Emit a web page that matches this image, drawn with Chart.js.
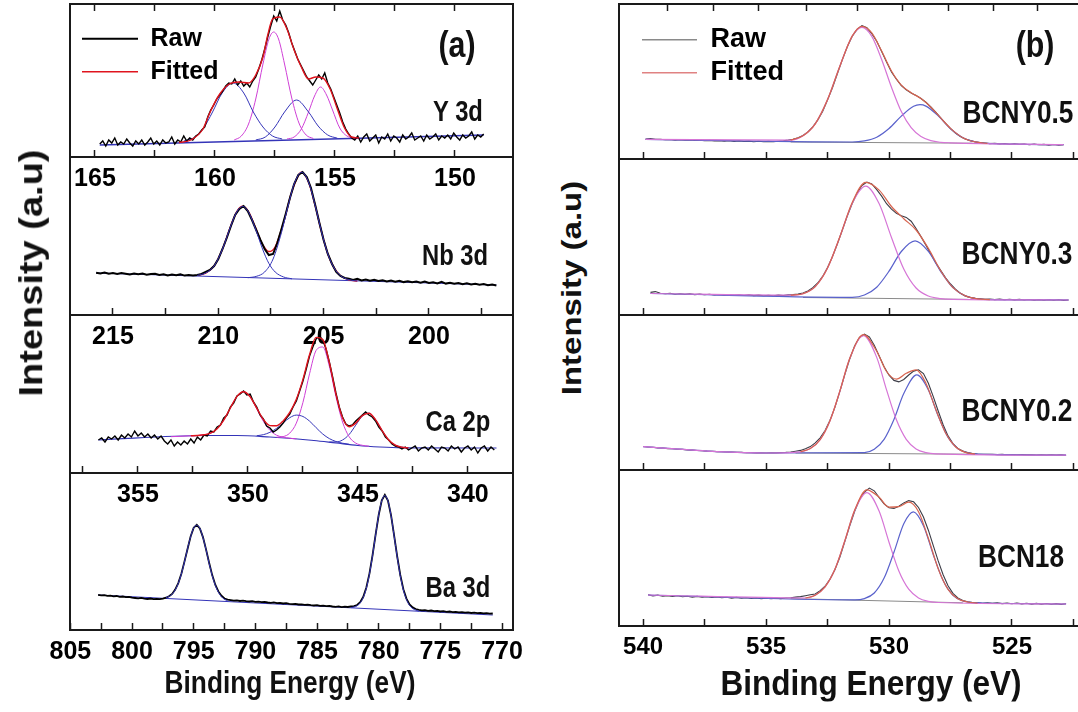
<!DOCTYPE html>
<html>
<head>
<meta charset="utf-8">
<script src="https://cdn.jsdelivr.net/npm/chart.js@4.4.0/dist/chart.umd.min.js"></script>
<style>
    body { margin: 0; background: #fff; }
    #wrap { position: relative; width: 1078px; height: 712px; overflow: hidden; background: #fff; }
    canvas { position: absolute; }
    .lbl { position: absolute; transform: translate(-50%, -50%) scaleX(0.82); font-family: 'Liberation Sans', Arial, sans-serif; font-weight: bold; color: #111; white-space: nowrap; line-height: 1; }
    .ytl { position: absolute; transform: translate(-50%, -50%) rotate(-90deg) scaleY(0.85); font-family: 'Liberation Sans', Arial, sans-serif; font-weight: bold; color: #111; white-space: nowrap; line-height: 1; }
</style>
</head>
<body>
<div id="wrap">
    <canvas id="cY"></canvas>
    <canvas id="cNb"></canvas>
    <canvas id="cCa"></canvas>
    <canvas id="cBa"></canvas>
    <canvas id="cB1"></canvas>
    <canvas id="cB2"></canvas>
    <canvas id="cB3"></canvas>
    <canvas id="cB4"></canvas>

    <div class="lbl" style="left:457px; top:44px; font-size:37px">(a)</div>
    <div class="lbl" style="left:458px; top:111px; font-size:29px">Y 3d</div>
    <div class="lbl" style="left:455px; top:255px; font-size:29px">Nb 3d</div>
    <div class="lbl" style="left:458px; top:421px; font-size:29px">Ca 2p</div>
    <div class="lbl" style="left:458px; top:587px; font-size:29px">Ba 3d</div>
    <div class="lbl" style="left:1035px; top:44px; font-size:37px">(b)</div>
    <div class="lbl" style="left:1018px; top:112px; font-size:32px">BCNY0.5</div>
    <div class="lbl" style="left:1017px; top:253px; font-size:32px">BCNY0.3</div>
    <div class="lbl" style="left:1017px; top:410px; font-size:32px">BCNY0.2</div>
    <div class="lbl" style="left:1021px; top:556px; font-size:32px">BCN18</div>
    <div class="lbl" style="left:290px; top:682px; font-size:32px">Binding Energy (eV)</div>
    <div class="lbl" style="left:871px; top:682px; font-size:35px; transform: translate(-50%, -50%) scaleX(0.9)">Binding Energy (eV)</div>
    <div class="ytl" style="left:31px; top:273px; font-size:38px">Intensity (a.u)</div>
    <div class="ytl" style="left:571px; top:288px; font-size:33px">Intensity (a.u)</div>
</div>
<script>
// ---- panel (a) : Y 3d ----
const y3dE0 = 164.8, y3dStep = 0.125
const y3dRaw = [
    13,16,11,17,14,19,12,15,13,18, 14,11,16,13,17,12,15,19,13,16,
    12,17,14,15,20,13,17,15,21,16, 19,17,
    21,23,27,30,40,47,52,58,62,66, 71,74,73,78,72,76,71,74,70,76,
    80,88,97,108,120,131,141,136,146,137, 132,124,114,106,98,92,86,80,76,72,
    77,82,78,84,74,68,60,52,44,35, 28,23,19,
    17,21,15,20,23,16,19,22,14,20, 18,23,16,21,19,15,22,18,20,24,
    17,19,21,16,22,18,20,23,17,21, 19,22,18,24,20,17,22,19,21,25,
    18,22,20,23
]
const y3dFitE = [161.5,161.0,160.5,160.2,159.8,159.4,159.0,158.6,158.3,158.0,157.8,157.6,157.3,157.0,156.7,156.4,156.1,155.8,155.5,155.2,154.9,154.6,154.3,154.0]
const y3dFit = [14.5,17,28,45,63,73,75,74,82,100,122,138,140,128,107,90,78,80,79,68,48,29,20,19]
const y3dPk1E = [161.3,160.9,160.5,160.1,159.7,159.25,158.8,158.4,158.0,157.6,157.2]
const y3dPk1 = [16,19,28,45,64,74,64,45,30,21,18]
const y3dPk2E = [159.2,158.9,158.6,158.3,158.0,157.75,157.55,157.35,157.1,156.8,156.5,156.2,155.9]
const y3dPk2 = [17,21,33,58,93,118,125,118,93,59,34,22,18.5]
const y3dPk3E = [158.3,157.9,157.5,157.1,156.6,156.1,155.7,155.3,154.9]
const y3dPk3 = [17,20,30,45,57,45,31,22,18.8]
const y3dPk4E = [157.0,156.7,156.4,156.1,155.85,155.6,155.35,155.1,154.8,154.5,154.2]
const y3dPk4 = [18,20,28,45,61,70,62,47,29,21,19]
const y3dBgE = [164.8, 148.8]
const y3dBg = [12, 22]
const y3dTicks = [165, 162.5, 160, 157.5, 155, 152.5, 150]

// ---- panel (a) : Nb 3d ----
const nbE0 = 215.8, nbStep = 0.2
const nbRaw = [
    42.3,41.6,42.5,41.2,41.9,41.0,42.0,41.3,40.6,41.5, 40.8,41.4,40.2,40.9,41.3,40.1,40.7,39.5,40.4,39.8,
    40.6,39.4,40.1,39.6,40.0,
    41,43,45,49,56,66,77,89,100,106, 109,104,95,85,75,66,60,61,72,86,
    101,117,131,140,143,138,127,110,92,75, 61,51,43,39,37,
    36.2,35.0,36.1,34.6,35.5,34.3,35.2,34.0,34.8,33.6, 34.5,33.3,34.2,32.9,33.8,32.7,33.5,32.2,33.4,32.0,
    32.8,31.6,33.1,31.4,32.3,31.2,32.0,30.8,31.7,30.5, 31.2,30.2,30.9,29.8,30.4,29.5
]
const nbFitE = [211.0,210.6,210.2,209.8,209.4,209.1,208.84,208.55,208.25,207.9,207.6,207.3,206.9,206.5,206.04,205.7,205.4,205.1,204.8,204.5,204.2,203.8,203.4]
const nbFit = [39.6,42,49,66,89.6,104,108.7,102.7,88.2,70.6,63.4,68,92.6,124,142.8,132,109.4,83.2,61,47,39.3,35.3,34]
const nbPk1E = [211.0,210.6,210.2,209.8,209.4,209.1,208.84,208.55,208.25,207.9,207.6,207.3,206.9,206.5]
const nbPk1 = [39.6,42,49,66,89.6,104,108.6,102.4,87,66,51.6,43,38,36.2]
const nbPk2E = [208.6,208.2,207.8,207.4,207.0,206.7,206.4,206.04,205.7,205.4,205.1,204.8,204.5,204.2,203.8,203.4]
const nbPk2 = [37.3,38.6,43,56,82.5,108,131,142.8,132,109.4,83.2,61,47,39.3,35.3,34]
const nbBgE = [215.8, 196.8]
const nbBg = [42, 30]
const nbTicks = [215, 212.5, 210, 207.5, 205, 202.5, 200, 197.5]

// ---- panel (a) : Ca 2p ----
const caE0 = 356.8, caStep = 0.15
const caRaw = [
    33,35,31,36,34,37,33,38,35,39, 36,42,37,40,36,39,35,38,34,37,
    32,29,33,27,31,28,32,29,34,30, 36,33,38,37,42,41,46,48,55,58,
    66,70,77,79,82,78,79,71,66,58, 54,47,45,41,43,46,50,55,59,66,
    72,82,92,104,117,126,134,137,133,124, 111,96,80,66,56,49,47,48,52,55,
    58,61,58,56,52,46,42,36,33,29, 27,26,24,
    26,23,25,27,22,25,26,23,27,24, 21,26,25,22,27,24,26,21,25,27,
    23,26,20,25,27,22,26,23
]
const caFitE = [352.6,352.3,352.0,351.7,351.4,351.1,350.8,350.5,350.2,349.9,349.6,349.3,349.0,348.7,348.4,348.1,347.8,347.5,347.2,346.9,346.6,346.3,346.0,345.7,345.4,345.1,344.8,344.5,344.2,343.9,343.6,343.3,343.0,342.7]
const caFit = [37.2,37.5,38.2,39.8,44.2,52.9,65,76.6,81.3,76.3,64.8,53.7,47.4,47.2,52.1,60.6,73.7,93.6,118.2,135.6,133.5,110.6,78.9,55.2,46.3,49.9,57.4,59.8,53.3,42.4,33,27.9,25.8,25.1]
const caPk1E = [353.5,352.6,352.3,352.0,351.7,351.4,351.1,350.8,350.5,350.2,349.9,349.6,349.3,349.0,348.7,348.4,348.1,347.8]
const caPk1 = [36.3,37.2,37.5,38.2,39.8,44.2,52.9,65,76.6,81.3,76.1,64.1,51.7,42.7,37.8,35.8,34.8,34.1]
const caPk2E = [349.6,349.3,349.0,348.7,348.4,348.1,347.8,347.5,347.2,346.9,346.6,346.3,346.0,345.7,345.4]
const caPk2 = [37.3,38.3,40.7,44.6,50.1,55.3,57.9,56.5,51.9,45.3,39,34.4,31.5,29.8,28.7]
const caPk3E = [348.7,348.4,348.1,347.8,347.5,347.2,346.9,346.6,346.3,346.0,345.7,345.4,345.1,344.8,344.5]
const caPk3 = [35.8,36.4,39.9,49.9,70.6,99.2,122.6,126,106.8,76.4,51,36.3,29.9,27.7,26.8]
const caPk4E = [346.3,346.0,345.7,345.4,345.1,344.8,344.5,344.2,343.9,343.6,343.3,343.0,342.7]
const caPk4 = [31,31,33,38.5,47.8,56.9,59.8,53.3,42.4,33,27.9,25.8,25.1]
const caBgE = [356.8,352,350.5,349,348,347,346,345,344,343,338.7]
const caBg = [33,37.5,37.5,36,34.5,32.5,30,27.5,26,25.2,25]
const caTicks = [357.5, 355, 352.5, 350, 347.5, 345, 342.5, 340]

// ---- panel (a) : Ba 3d ----
const baE0 = 802.75, baStep = 0.25
const baRaw = [
    35.2,34.6,34.9,34.1,34.3,33.6,34.0,33.2,33.5,32.8, 33.1,32.4,32.0,31.6,32.1,31.4,31.0,31.5,30.8,31.2,
    30.9,31.4,32.3,
    33.8,36.1,40.4,46.9,56.3,68.4,81.0,93.5,102.3,105.2, 101.5,92.9,80.6,67.2,54.9,45.3,38.6,34.2,31.5,30.4,
    29.9,29.4,29.7,29.0,29.3,28.8,28.5,28.9,28.2,28.4, 27.8,28.1,27.5,27.2,27.6,26.9,27.1,26.5,26.8,26.1,
    25.8,26.2,25.5,25.7,25.1,25.4,24.8,24.5,24.9,24.2, 24.4,23.8,24.1,23.5,23.2,23.6,22.9,23.3,23.0,23.6,
    23.9,25.0,27.8,33.2,42.5,56.4,74.6,95.3,115.0,129.6, 135.1,129.4,114.8,94.6,73.6,55.0,40.8,31.4,25.6,22.6,
    21.0,
    20.2,19.6,19.9,19.2,19.5,18.8,19.1,18.5,18.9,18.2, 18.5,17.9,18.2,17.6,17.9,17.3,17.6,17.0,17.4,16.8,
    17.1,16.6,16.9,16.3,16.5
]
const baPk1E = [797.25,797.0,796.75,796.5,796.25,796.0,795.75,795.5,795.25,795.0,794.75,794.5,794.25,794.0,793.75,793.5,793.25,793.0,792.75,792.5,792.25]
const baPk1 = [32.5,33.5,35.8,40,46.6,56,68,81.3,93.2,102,104.8,101.7,92.5,80.4,66.7,54.4,44.7,37.8,33.3,30.6,29.3]
const baPk2E = [782.25,782.0,781.75,781.5,781.25,781.0,780.75,780.5,780.25,780.0,779.75,779.5,779.25,779.0,778.75,778.5,778.25,778.0,777.75,777.5,777.25,777.0,776.75]
const baPk2 = [22.3,23,24.2,27.1,32.6,41.9,55.9,74.3,95.1,115.2,129.4,134.5,129.1,114.6,94.2,73.1,54.4,40,30.5,24.6,21.5,19.9,18.9]
const baBgE = [802.75, 770.75]
const baBg = [35, 15]
const baTicks = [805, 802.5, 800, 797.5, 795, 792.5, 790, 787.5, 785, 782.5, 780, 777.5, 775, 772.5, 770]

// ---- panel (b) : O 1s, shared axis ----
const bTicks = [540, 537.5, 535, 532.5, 530, 527.5, 525, 522.5]
const bTopTicks = [539, 537.15, 535.3, 533.35, 531.3, 529.45, 527.6, 525.75, 523.95]
const bStep = 0.2

// BCNY0.5
const b1E0 = 539.9
const b1Raw = [
    19.9,20.4,19.6,19.8,19.2,19.5,18.9,19.3,18.7,19.0, 18.5,18.9,18.2,18.6,18.0,18.4,17.8,18.2,17.6,18.1,
    17.5,17.9,17.3,17.8,17.2,17.6,17.3,17.8,18.2,18.9, 19.8,21.3,23.5,27.0,32.1,38.9,47.6,58.9,71.2,85.3,
    99.1,112.0,122.5,129.6,133.4,131.2,125.4,117.8,107.5,97.1, 87.0,79.8,73.5,69.1,66.0,63.6,60.5,56.8,52.0,46.9,
    41.2,35.6,30.4,26.0,22.4,20.1,18.4,17.3,16.4,16.0, 15.4,15.8,15.1,15.5,14.8,15.3,14.6,15.0,14.3,14.9,
    14.2,14.6,13.9,14.5,13.8,14.3
]
const b1FitE = [534.0,533.5,533.0,532.5,532.0,531.5,531.1,530.7,530.3,529.9,529.5,529.1,528.7,528.3,527.9,527.5,527.0,526.5,526.0]
const b1Fit = [18.9,23.3,35.2,59.4,92.8,122.9,132.7,126.1,108,88,73.9,66.3,60.4,51.8,41.1,30.6,21.3,17.1,15.6]
const b1PinkE = [539.9,534.0,533.5,533.0,532.5,532.0,531.5,531.1,530.7,530.3,529.9,529.5,529.1,528.7,528.3,527.9,527.5,522.9]
const b1Pink = [19.7,18.9,23.3,35.2,59.4,92.8,122.7,131.6,122.6,99.5,71.7,47.4,31.3,22.4,18.3,16.7,16.2,14.3]
const b1BlueE = [539.9,531.5,531.0,530.5,530.0,529.5,529.0,528.74,528.5,528.0,527.5,527.0,526.5,526.0,522.9]
const b1Blue = [19.7,17,18.1,21.8,30.5,42.9,52.7,54.3,52.9,43.2,30.3,21.3,17.1,15.6,14.3]
const b1BgE = [534.0, 526.6]
const b1Bg = [17.0, 15.8]

// BCNY0.3
const b2E0 = 539.7
const b2Raw = [
    22.6,23.4,21.8,21.2,21.7,20.8,21.3,20.6,21.1,20.4, 20.9,20.2,20.7,20.0,20.5,19.8,20.4,19.7,20.2,19.5,
    20.1,19.4,19.9,19.2,19.8,19.3,19.9,19.5,20.1,20.4, 21.0,22.0,24.1,27.3,32.0,38.6,47.4,58.3,71.0,84.8,
    98.6,111.2,121.8,129.5,133.0,131.0,125.4,118.9,111.3,105.8, 101.7,99.2,97.6,93.8,86.5,78.4,69.9,61.0,52.3,44.6,
    37.2,31.0,25.8,21.8,19.1,17.6,16.7,16.1,15.6,16.0, 15.4,15.9,15.2,15.7,15.1,15.6,15.0,15.5,14.9,15.4,
    14.8,15.3,14.7,15.2,14.6,15.0
]
const b2FitE = [534.0,533.5,533.0,532.5,532.0,531.5,530.95,530.4,529.9,529.4,528.9,528.4,527.9,527.4,526.9,526.4,525.9]
const b2Fit = [19.8,21.3,28.4,47,78.2,112.3,132.7,124.9,108.5,96.3,85,66.6,44.3,27.3,19.1,16.2,15.4]
const b2PinkE = [539.7,534.0,533.5,533.0,532.5,532.0,531.5,530.95,530.4,529.9,529.4,528.9,528.4,527.9,527.4,522.7]
const b2Pink = [21.5,19.8,21.3,28.4,47,78.1,111.6,128.9,111.2,77.5,46,27,19,16.4,15.7,15]
const b2BlueE = [539.7,531.5,531.0,530.5,530.0,529.5,528.94,528.4,527.9,527.4,526.9,526.4,525.9,522.7]
const b2Blue = [21.5,17.7,20,27.8,43.8,63.5,74.1,63.6,43.7,27.3,19.1,16.2,15.4,15]
const b2BgE = [533.5, 526.8]
const b2Bg = [17.5, 15.6]

// BCNY0.2
const b3E0 = 540.0
const b3Raw = [
    23.5,23.0,22.8,22.1,22.0,21.4,21.2,20.8,20.6,20.0, 19.9,19.5,19.3,18.9,18.8,18.4,18.3,18.0,17.9,17.6,
    17.6,17.3,17.4,17.1,17.3,17.0,17.2,17.1,17.4,17.6, 18.0,18.8,19.6,21.3,23.4,27.1,32.2,39.4,49.8,62.6,
    78.4,95.1,110.8,124.0,132.5,135.8,133.2,124.8,114.0,103.2, 94.8,89.6,88.1,90.5,95.0,98.9,100.2,96.4,86.7,73.4,
    59.0,45.2,34.1,26.4,21.6,18.9,17.4,16.5,16.0,15.8, 15.6,15.7,15.4,15.6,15.3,15.5,15.2,15.4,15.1,15.3,
    15.0,15.2,14.9,15.2,14.9,15.1,14.8
]
const b3FitE = [533.6,533.2,532.8,532.4,532.0,531.6,531.04,530.5,530.1,529.7,529.3,528.9,528.5,528.1,527.7,527.3,526.9,526.5]
const b3Fit = [18.2,21.4,30.4,49.3,78.9,111.5,135.4,118.7,98.5,90.9,96.7,100.1,86.8,60.8,37,23.2,17.6,16.1]
const b3PinkE = [540.0,537.0,535.0,533.6,533.2,532.8,532.4,532.0,531.6,531.04,530.5,530.1,529.7,529.3,528.9,528.5,528.1,522.8]
const b3Pink = [23.3,18.4,17.0,18.2,21.4,30.4,49.3,78.8,111.4,134.4,112.6,80.1,50.2,30.7,21.1,17.4,16.2,14.8]
const b3BlueE = [540.0,537.0,535.0,531.0,530.6,530.2,529.8,529.4,528.87,528.4,528.0,527.6,527.2,526.8,526.4,522.8]
const b3Blue = [23.3,18.4,17.0,17.4,20.7,30.6,50.5,76.4,95.1,80.1,54,32.6,21.3,17.1,15.8,14.8]
const b3BgE = [533.8, 526.6]
const b3Bg = [17.0, 15.8]

// BCN18
const b4E0 = 539.8
const b4Raw = [
    31.2,30.1,30.9,29.8,30.4,29.5,30.2,29.3,29.8,28.9, 29.6,28.7,29.3,28.5,29.0,28.2,28.8,27.9,28.6,27.8,
    28.3,27.5,28.1,27.3,27.9,27.2,27.8,27.4,28.0,28.3, 28.9,29.4,30.3,31.2,32.0,35.3,39.8,46.9,56.2,68.7,
    84.1,99.8,114.5,126.3,134.0,137.9,135.2,128.4,122.1,118.2, 117.6,119.8,123.1,125.4,124.2,118.5,109.0,95.8,80.4,65.1,
    51.2,40.3,32.6,28.0,25.4,24.3,23.5,23.2,22.8,23.3, 22.6,23.1,22.4,22.9,22.2,23.0,22.1,22.7,21.9,22.6,
    21.8,22.5,21.7,22.4,21.6,22.2
]
const b4FitE = [533.4,533.0,532.6,532.2,531.8,531.4,530.9,530.4,530.0,529.6,529.2,528.8,528.4,528.0,527.6,527.2,526.8,526.4]
const b4Fit = [28,30.8,39.1,56.7,85.1,115.7,136.2,128.7,118.8,119.3,123.8,114.3,87.7,57.3,36.6,27.2,24,23]
const b4PinkE = [539.8,533.4,533.0,532.6,532.2,531.8,531.4,530.9,530.4,530.0,529.6,529.2,528.8,528.4,528.0,522.8]
const b4Pink = [31.0,28,30.8,39.1,56.7,85,115.3,133.4,114.7,83.8,55,36.8,28.1,24.7,23.5,22.0]
const b4BlueE = [539.8,531.4,531.0,530.6,530.2,529.8,529.4,529.01,528.6,528.2,527.8,527.4,527.0,526.6,526.2,522.8]
const b4Blue = [31.0,26.1,27.4,33,47.9,73.7,102.2,114.1,100.3,71.3,45.4,30.7,25,23.4,23,22.0]
const b4BgE = [534.0, 527.0]
const b4Bg = [27.4, 23.2]

const FONT = "'Liberation Sans', Arial, sans-serif"
Chart.defaults.font.family = FONT

function pts(e, v){
    return e.map((x, i) => ({x: x, y: v[i]}))
}

function rawPts(e0, step, v){
    return v.map((y, i) => ({x: +(e0 - i * step).toFixed(3), y: y}))
}

function curve(data, color, width, order, label, smooth){
    const ds = {
        label: label || '',
        data: data,
        borderColor: color,
        backgroundColor: color,
        borderWidth: width,
        pointRadius: 0,
        fill: false,
        order: order,
        xAxisID: 'x',
        yAxisID: 'y'
    }
    if(smooth !== false) ds.cubicInterpolationMode = 'monotone'
    return ds
}

function legendCfg(size, pad, skip, len, titleGap, overrides){
    return {
        display: true,
        position: 'chartArea',
        align: 'start',
        title: {display: true, text: ' ', font: {size: 1}, padding: {top: 0, bottom: titleGap}},
        labels: {
            usePointStyle: true,
            pointStyle: 'line',
            pointStyleWidth: skip + len,
            padding: pad,
            color: '#000',
            font: {family: FONT, size: size, weight: 'bold'},
            generateLabels: chart => {
                const items = Chart.defaults.plugins.legend.labels.generateLabels(chart)
                    .filter(it => it.text === 'Raw' || it.text === 'Fitted')
                    .sort((a, b) => (a.text === 'Raw' ? 0 : 1) - (b.text === 'Raw' ? 0 : 1))
                items.forEach(it => {
                    it.lineDash = [0, skip, len, 1000]
                    Object.assign(it, overrides[it.text] || {})
                })
                return items
            }
        }
    }
}

function makeChart(id, box, xr, ticks, opt){
    const padL = 30, padR = 30, padT = 2, axisH = 50
    const cv = document.getElementById(id)
    cv.width = box.w + padL + padR
    cv.height = box.h + padT + axisH
    cv.style.left = (box.x - padL) + 'px'
    cv.style.top = (box.y - padT) + 'px'
    const frame = {display: true, color: '#1a1a1a', width: 2}
    const tickGrid = {drawOnChartArea: false, drawTicks: true, tickLength: -7, tickWidth: 1.5, tickColor: '#1a1a1a'}
    // keep the frame exactly on the box: no extra room for edge labels
    const noEdge = s => { s.paddingLeft = 0; s.paddingRight = 0; s.paddingTop = 0; s.paddingBottom = 0 }
    return new Chart(cv, {
        type: 'line',
        data: {datasets: opt.datasets},
        options: {
            responsive: false,
            animation: false,
            devicePixelRatio: 1,
            layout: {padding: {left: padL, right: padR, top: padT, bottom: 0}},
            plugins: {
                legend: opt.legend || {display: false},
                tooltip: {enabled: false}
            },
            scales: {
                x: {
                    type: 'linear', position: 'bottom', min: xr[0], max: xr[1], reverse: true,
                    afterFit: s => { s.height = axisH; noEdge(s) },
                    afterBuildTicks: s => { s.ticks = ticks.map(v => ({value: v})) },
                    ticks: {
                        display: opt.labels, autoSkip: false, maxRotation: 0, padding: 14, color: '#000',
                        font: {family: FONT, size: opt.tickSize || 25, weight: 'bold'},
                        callback: v => v % 5 === 0 ? String(v) : ''
                    },
                    grid: tickGrid,
                    border: frame
                },
                xTop: {
                    type: 'linear', axis: 'x', position: 'top', min: xr[0], max: xr[1], reverse: true,
                    afterFit: s => { s.height = 0; noEdge(s) },
                    afterBuildTicks: s => { s.ticks = (opt.topTicks || []).map(v => ({value: v})) },
                    ticks: {display: false},
                    grid: Object.assign({}, tickGrid, {drawTicks: !!opt.topTicks}),
                    border: frame
                },
                y: {
                    type: 'linear', min: 0, max: box.h,
                    afterFit: s => { s.width = 0; noEdge(s) },
                    ticks: {display: false}, grid: {display: false}, border: frame
                },
                yRight: {
                    type: 'linear', axis: 'y', position: 'right', min: 0, max: box.h,
                    afterFit: s => { s.width = 0; noEdge(s) },
                    ticks: {display: false}, grid: {display: false}, border: frame
                }
            }
        }
    })
}

const RED = '#e0141e', MAG = '#cf3fd6', BLUE = '#3434b8', BLACK = '#000'

makeChart('cY', {x: 70, y: 4, w: 443, h: 153}, [147.58, 166.04], y3dTicks, {
    labels: true,
    topTicks: y3dTicks,
    legend: legendCfg(25, 8, 4, 56, 15, {Raw: {lineWidth: 2}, Fitted: {lineWidth: 1.5}}),
    datasets: [
        curve(pts(y3dFitE, y3dFit), RED, 1.4, 0, 'Fitted'),
        curve(rawPts(y3dE0, y3dStep, y3dRaw), BLACK, 1.4, 1, 'Raw', false),
        curve(pts(y3dPk1E, y3dPk1), BLUE, 1, 2),
        curve(pts(y3dPk2E, y3dPk2), MAG, 1, 2),
        curve(pts(y3dPk3E, y3dPk3), BLUE, 1, 2),
        curve(pts(y3dPk4E, y3dPk4), MAG, 1, 2),
        curve(pts(y3dBgE, y3dBg), BLUE, 1.3, 3, '', false)
    ]
})

makeChart('cNb', {x: 70, y: 157, w: 443, h: 158}, [196.01, 217.04], nbTicks, {
    labels: true,
    datasets: [
        curve(pts(nbPk1E, nbPk1), BLUE, 1, 0),
        curve(pts(nbPk2E, nbPk2), BLUE, 1, 0),
        curve(rawPts(nbE0, nbStep, nbRaw), BLACK, 2, 1, 'Raw', false),
        curve(pts(nbFitE, nbFit), RED, 1.5, 2, 'Fitted'),
        curve(pts(nbBgE, nbBg), BLUE, 1, 3, '', false)
    ]
})

makeChart('cCa', {x: 70, y: 315, w: 443, h: 158}, [337.95, 358.09], caTicks, {
    labels: true,
    datasets: [
        curve(pts(caFitE, caFit), RED, 1.4, 0, 'Fitted'),
        curve(rawPts(caE0, caStep, caRaw), BLACK, 1.4, 1, 'Raw', false),
        curve(pts(caPk1E, caPk1), MAG, 1, 2),
        curve(pts(caPk2E, caPk2), BLUE, 1, 2),
        curve(pts(caPk3E, caPk3), MAG, 1, 2),
        curve(pts(caPk4E, caPk4), BLUE, 1, 2),
        curve(pts(caBgE, caBg), BLUE, 1.2, 3)
    ]
})

makeChart('cBa', {x: 70, y: 473, w: 443, h: 157}, [769.11, 805.03], baTicks, {
    labels: true,
    datasets: [
        curve(pts(baPk1E, baPk1), BLUE, 1, 0),
        curve(pts(baPk2E, baPk2), BLUE, 1, 0),
        curve(rawPts(baE0, baStep, baRaw), BLACK, 1.8, 1, 'Raw', false),
        curve(pts(baBgE, baBg), BLUE, 1, 2, '', false)
    ]
})

const B_RAW = '#3c3c46', B_FIT = '#d8644f', B_PINK = '#d675d6', B_BLUE = '#5a62cc', B_BG = '#8a8a8a'
const bRange = [521.99, 540.98]

function bSets(e0, raw, fitE, fit, pinkE, pink, blueE, blue, bgE, bg){
    return [
        curve(pts(fitE, fit), B_FIT, 1.2, 0, 'Fitted'),
        curve(pts(pinkE, pink), B_PINK, 1.2, 1),
        curve(pts(blueE, blue), B_BLUE, 1.2, 1),
        curve(rawPts(e0, bStep, raw), B_RAW, 1.1, 2, 'Raw', false),
        curve(pts(bgE, bg), B_BG, 1, 3, '', false)
    ]
}

makeChart('cB1', {x: 619, y: 4, w: 467, h: 155}, bRange, bTicks, {
    labels: false,
    topTicks: bTopTicks,
    legend: legendCfg(27, 6, 17, 55, 17, {Raw: {strokeStyle: '#8a8a8a', lineWidth: 1.5}, Fitted: {strokeStyle: '#e08282', lineWidth: 1.5}}),
    datasets: bSets(b1E0, b1Raw, b1FitE, b1Fit, b1PinkE, b1Pink, b1BlueE, b1Blue, b1BgE, b1Bg)
})

makeChart('cB2', {x: 619, y: 159, w: 467, h: 156}, bRange, bTicks, {
    labels: false,
    datasets: bSets(b2E0, b2Raw, b2FitE, b2Fit, b2PinkE, b2Pink, b2BlueE, b2Blue, b2BgE, b2Bg)
})

makeChart('cB3', {x: 619, y: 315, w: 467, h: 155}, bRange, bTicks, {
    labels: false,
    datasets: bSets(b3E0, b3Raw, b3FitE, b3Fit, b3PinkE, b3Pink, b3BlueE, b3Blue, b3BgE, b3Bg)
})

makeChart('cB4', {x: 619, y: 470, w: 467, h: 156}, bRange, bTicks, {
    labels: true,
    tickSize: 24,
    datasets: bSets(b4E0, b4Raw, b4FitE, b4Fit, b4PinkE, b4Pink, b4BlueE, b4Blue, b4BgE, b4Bg)
})
</script>
</body>
</html>
